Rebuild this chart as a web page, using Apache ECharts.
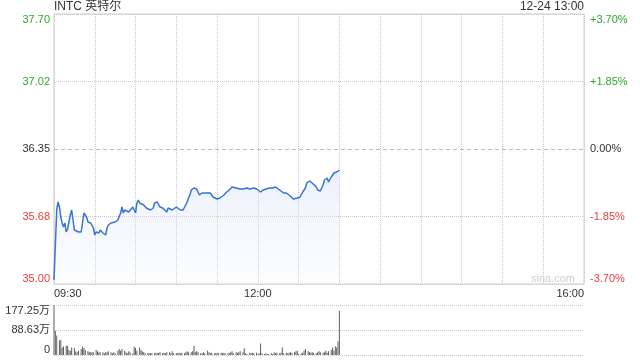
<!DOCTYPE html>
<html><head><meta charset="utf-8">
<script src="https://cdn.jsdelivr.net/npm/echarts@6/dist/echarts.min.js"></script>
<style>html,body{margin:0;padding:0;background:#fff}#c{width:640px;height:360px}</style>
</head><body><div id="c"></div>
<script>
const stockTitle = 'INTC 英特尔';
const timeStamp = '12-24 13:00';
const watermark = 'sina.com';
const prevClose = 36.35;
const priceMin = 35.00, priceMax = 37.70;
const pctMin = -3.70, pctMax = 3.70, pctStep = 1.85;
const priceTickLabels = ['35.00', '35.68', '36.35', '37.02', '37.70'];
const pctTickLabels = ['-3.70%', '-1.85%', '0.00%', '+1.85%', '+3.70%'];
const timeTickMinutes = [0, 150, 390];
const timeTickLabels = ['09:30', '12:00', '16:00'];
const volMax = 177.25;
const volTickLabels = ['0', '88.63万', '177.25万'];

const priceMinutes = [0,2,3,4,5,6,7,8,9,10,11,12,13,14,15,16,18,19,20,22,23,24,25,27,28,29,30,31,33,34,35,36,38,39,40,41,42,45,46,47,49,50,51,52,53,55,56,58,60,61,62,63,66,68,71,73,74,76,77,78,80,83,84,85,87,88,90,93,94,95,96,98,99,100,101,103,105,106,107,109,110,112,115,117,120,122,125,127,129,131,132,134,137,139,142,144,147,149,150,152,154,156,159,161,163,164,166,169,171,174,175,176,179,180,181,183,185,186,188,190,191,193,194,196,197,198,199,201,202,203,204,206,208,210];
const priceValues = [35.04,35.74,35.82,35.77,35.67,35.61,35.57,35.61,35.52,35.55,35.57,35.69,35.74,35.64,35.54,35.52,35.52,35.51,35.52,35.71,35.69,35.67,35.62,35.61,35.59,35.56,35.49,35.52,35.51,35.54,35.52,35.51,35.49,35.56,35.59,35.61,35.61,35.62,35.62,35.64,35.71,35.77,35.71,35.74,35.76,35.72,35.74,35.77,35.71,35.81,35.84,35.81,35.79,35.76,35.74,35.76,35.81,35.82,35.81,35.77,35.76,35.72,35.76,35.77,35.74,35.76,35.77,35.74,35.72,35.74,35.72,35.82,35.86,35.89,35.94,35.96,35.95,35.92,35.89,35.91,35.92,35.91,35.91,35.87,35.85,35.86,35.89,35.92,35.94,35.97,35.96,35.96,35.95,35.95,35.96,35.95,35.96,35.95,35.96,35.92,35.94,35.95,35.96,35.96,35.97,35.96,35.94,35.91,35.91,35.88,35.86,35.85,35.86,35.87,35.87,35.92,35.96,36.01,36.03,36.01,35.99,35.97,35.94,35.93,35.94,35.99,36.04,36.06,36.02,36.04,36.07,36.11,36.12,36.14];

const volMinutes = [0,1,2,4,5,6,7,9,10,11,12,13,15,16,17,18,20,21,22,23,25,26,27,28,29,31,32,33,34,36,37,38,39,40,42,43,44,45,47,48,49,50,52,53,54,55,56,58,59,60,61,63,64,65,66,67,69,70,71,72,74,75,76,77,78,80,81,82,83,85,86,87,88,90,91,92,93,94,96,97,98,99,101,102,103,104,105,106,108,109,110,111,113,114,115,116,118,119,120,121,123,124,125,126,128,129,130,131,132,134,135,136,137,139,140,141,142,144,145,146,147,149,150,151,152,153,155,156,157,158,160,161,162,163,164,166,167,168,169,171,172,173,174,175,177,178,179,180,182,183,184,185,187,188,189,190,191,193,194,195,196,198,199,200,201,202,204,205,206,207,208,209,210];
const volValues = [177.25,86,69,51,53,27,30,33,33,18,15,27,25,13,9.5,15,21,30,25,18,13,9.5,9.5,9.5,9.5,18,13,9.5,9.5,9.5,5.9,9.5,9.5,13,9.5,5.9,9.5,5.9,15,21,15,21,15,9.5,5.9,13,9.5,5.9,30,25,15,27,18,13,9.5,5.9,5.9,8.3,5.9,5.9,7.1,8.3,5.9,7.1,9.5,7.1,8.3,5.9,9.5,9.5,5.9,13,5.9,5.9,5.9,8.3,5.9,8.3,5.9,9.5,13,9.5,9.5,13,33,9.5,13,9.5,5.9,5.9,9.5,5.9,15,9.5,5.9,8.3,5.9,5.9,8.3,5.9,8.3,5.9,8.3,5.9,8.3,5.9,9.5,13,5.9,9.5,8.3,9.5,13,9.5,24,5.9,3.5,8.3,5.9,8.3,5.9,8.3,3.5,5.9,41,5.9,3.5,5.9,3.5,3.5,5.9,3.5,9.5,5.9,8.3,5.9,8.3,27,5.9,8.3,5.9,8.3,9.5,8.3,9.5,13,15,3.5,5.9,8.3,15,21,13,9.5,8.3,9.5,8.3,5.9,9.5,13,9.5,8.3,9.5,15,8.3,13,18,27,15,30,27,48,157];

const GREEN = '#2fa82f', RED = '#f03c3c', TXT = '#333';
const FONT = 'Arial, "Liberation Sans", "Noto Sans CJK SC", sans-serif';
const dotted = { color: '#cacaca', type: [1, 1], width: 1 };

function tickIndex(v, min, step) { return Math.round((v - min) / step); }
function signColor(v) { return v > 1e-9 ? GREEN : (v < -1e-9 ? RED : TXT); }

const chart = echarts.init(document.getElementById('c'), null, { renderer: 'canvas' });
chart.setOption({
  animation: false,
  backgroundColor: '#fff',
  title: [
    { text: stockTitle, left: 54, top: 1, padding: 0,
      textStyle: { fontSize: 12, fontWeight: 'normal', color: TXT, fontFamily: FONT } },
    { text: timeStamp, right: 56, top: 1, padding: 0,
      textStyle: { fontSize: 12, fontWeight: 'normal', color: TXT, fontFamily: FONT } }
  ],
  graphic: [
    { type: 'text', left: 531, top: 273, silent: true,
      style: { text: watermark, fill: '#d0d0d0', fontSize: 11, fontFamily: FONT } }
  ],
  grid: [
    { left: 54, top: 14, width: 530, height: 270, show: true, borderColor: '#cccccc', borderWidth: 1, containLabel: false },
    { left: 54, top: 305, width: 530, height: 50, show: false, containLabel: false }
  ],
  xAxis: [
    { type: 'value', gridIndex: 0, min: 0, max: 390, interval: 30,
      axisLine: { show: false }, axisTick: { show: false },
      splitLine: { show: true, lineStyle: dotted },
      axisLabel: { show: true, margin: 4, fontSize: 11, color: TXT, fontFamily: FONT,
        alignMinLabel: 'left', alignMaxLabel: 'right',
        formatter: function (v) { const i = timeTickMinutes.indexOf(Math.round(v)); return i >= 0 ? timeTickLabels[i] : ''; } } },
    { type: 'value', gridIndex: 1, min: 0, max: 390, interval: 30, show: false, splitLine: { show: false } }
  ],
  yAxis: [
    { type: 'value', gridIndex: 0, position: 'left', min: pctMin, max: pctMax, interval: pctStep,
      axisLine: { show: false }, axisTick: { show: false },
      splitLine: { show: true, lineStyle: { color: ['#cacaca', '#cacaca', 'rgba(0,0,0,0)', '#cacaca', '#cacaca'], type: [1, 1], width: 1 } },
      axisLabel: { margin: 4, fontSize: 11, fontFamily: FONT,
        verticalAlignMinLabel: 'bottom', verticalAlignMaxLabel: 'top',
        color: function (v) { return signColor(v); },
        formatter: function (v) { return priceTickLabels[tickIndex(v, pctMin, pctStep)]; } } },
    { type: 'value', gridIndex: 0, position: 'right', min: pctMin, max: pctMax, interval: pctStep,
      axisLine: { show: false }, axisTick: { show: false }, splitLine: { show: false },
      axisLabel: { margin: 6, fontSize: 11, fontFamily: FONT,
        verticalAlignMinLabel: 'bottom', verticalAlignMaxLabel: 'top',
        color: function (v) { return signColor(v); },
        formatter: function (v) { return pctTickLabels[tickIndex(v, pctMin, pctStep)]; } } },
    { type: 'value', gridIndex: 0, min: priceMin, max: priceMax, show: false, splitLine: { show: false } },
    { type: 'value', gridIndex: 1, position: 'left', min: 0, max: volMax, interval: volMax / 2,
      axisLine: { show: false }, axisTick: { show: false },
      splitLine: { show: true, lineStyle: dotted },
      axisLabel: { margin: 4, fontSize: 11, color: TXT, fontFamily: FONT,
        verticalAlignMinLabel: 'bottom', verticalAlignMaxLabel: 'top',
        formatter: function (v) { return volTickLabels[tickIndex(v, 0, volMax / 2)]; } } }
  ],
  series: [
    { type: 'line', xAxisIndex: 0, yAxisIndex: 2, showSymbol: false, symbol: 'none',
      data: priceMinutes.map(function (m, i) { return [m, priceValues[i]]; }),
      lineStyle: { color: '#3a73d0', width: 1.5 },
      areaStyle: { origin: 'start', color: new echarts.graphic.LinearGradient(0, 0, 0, 1, [
        { offset: 0, color: 'rgba(200,216,244,0.55)' },
        { offset: 1, color: 'rgba(236,242,252,0.25)' }]) },
      markLine: { silent: true, symbol: 'none', label: { show: false },
        lineStyle: { color: '#bbbbbb', type: [4, 3], width: 1 },
        data: [{ yAxis: prevClose }] } },
    { type: 'bar', xAxisIndex: 1, yAxisIndex: 3, barWidth: 1, barGap: 0,
      data: volMinutes.map(function (m, i) { return [m, volValues[i]]; }),
      itemStyle: { color: '#5f5f5f' } }
  ]
});
</script>
</body></html>
